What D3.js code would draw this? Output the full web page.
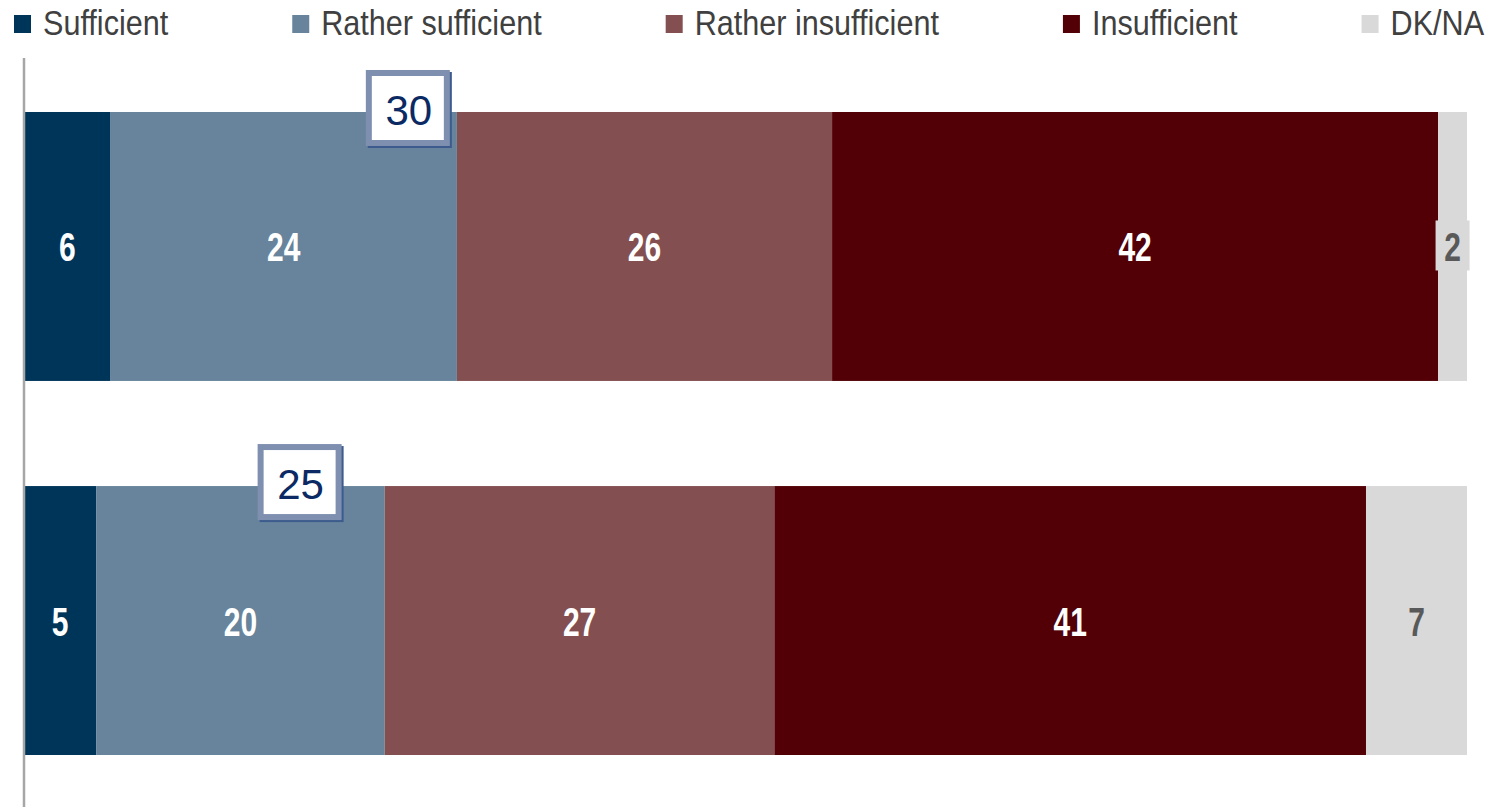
<!doctype html>
<html lang="en">
<head>
<meta charset="utf-8">
<title>Sufficiency</title>
<script src="https://cdn.jsdelivr.net/npm/d3@7"></script>
<style>
  body { margin: 0; background: #fff; }
  svg { display: block; }
  .lbl { font-family: "Liberation Sans", Arial, sans-serif; font-weight: bold; font-size: 40px; }
  .leg { font-family: "Liberation Sans", Arial, sans-serif; font-size: 36px; fill: #404040; }
  .call { font-family: "Liberation Sans", Arial, sans-serif; font-size: 42px; fill: #0b2a63; }
</style>
</head>
<body>
<svg id="chart" width="1511" height="807"></svg>
<script>
// data
var rows = ["Row 1", "Row 2"];
var series = ["Sufficient", "Rather sufficient", "Rather insufficient", "Insufficient", "DK/NA"];
var colors = ["#00355a", "#67849c", "#844f50", "#520005", "#d9d9d9"];
var values = [
  [6, 24, 26, 42, 2],
  [5, 20, 27, 41, 7]
];
var callouts = [30, 25];          // sum of the two "sufficient" answers
var calloutAt = [26.6, 19.1];     // where the box sits, in % units

var svg = d3.select("#chart");
var width = 1511, height = 807;
var narrow = 0.75;    // fake a condensed face, no narrow font here

var x = d3.scaleLinear().domain([0, 100]).range([24, 1467]);
var y = d3.scaleBand().domain(rows).range([60, 807]).paddingInner(0.281).paddingOuter(0.139);

// stacked segments
rows.forEach(function(r, i) {
  var acc = 0;
  var segs = values[i].map(function(v, j) {
    var s = { row: r, key: series[j], v: v, x0: acc, x1: acc + v, j: j };
    acc += v;
    return s;
  });

  var g = svg.append("g");
  g.selectAll("rect").data(segs).enter().append("rect")
    .attr("x", function(d) { return x(d.x0); })
    .attr("width", function(d) { return x(d.x1) - x(d.x0); })
    .attr("y", y(r))
    .attr("height", y.bandwidth())
    .attr("fill", function(d) { return colors[d.j]; });

  // small values get a grey tag so the number stays readable
  g.selectAll("rect.tag").data(segs.filter(function(d) { return d.j == 4 && d.v < 4; }))
    .enter().append("rect").attr("class", "tag")
    .attr("x", function(d) { return x((d.x0 + d.x1) / 2) - 17; })
    .attr("y", y(r) + y.bandwidth() / 2 - 26)
    .attr("width", 34).attr("height", 50)
    .attr("fill", "#d9d9d9");

  g.selectAll("text").data(segs).enter().append("text")
    .attr("class", "lbl")
    .attr("transform", function(d) {
      return "translate(" + x((d.x0 + d.x1) / 2) + "," + (y(r) + y.bandwidth() / 2 + 15) + ") scale(" + narrow + ",1)";
    })
    .attr("text-anchor", "middle")
    .attr("fill", function(d) { return d.j == 4 ? "#595959" : "#fff"; })
    .text(function(d) { return d.v; });

  // callout box
  var cx = x(calloutAt[i]), cy = y(r) - 4;
  var bw = 84, bh = 76;
  g.append("rect").attr("x", cx - bw / 2 + 2).attr("y", cy - bh / 2 + 2)
    .attr("width", bw).attr("height", bh).attr("fill", "#3d5b8c");
  g.append("rect").attr("x", cx - bw / 2 + 3).attr("y", cy - bh / 2 + 3)
    .attr("width", bw - 6).attr("height", bh - 6)
    .attr("fill", "#fff").attr("stroke", "#7f8fb0").attr("stroke-width", 6);
  g.append("text").attr("class", "call")
    .attr("x", cx + 1).attr("y", cy + 2).attr("dy", "0.35em")
    .attr("text-anchor", "middle")
    .text(callouts[i]);
});

// vertical axis line
svg.append("line").attr("x1", 24).attr("x2", 24).attr("y1", 58).attr("y2", height)
  .attr("stroke", "#a6a6a6").attr("stroke-width", 2.5);

// legend
var lx = 14, legScale = 0.85;
series.forEach(function(s, j) {
  var g = svg.append("g").attr("transform", "translate(" + lx + ",0)");
  g.append("rect").attr("x", 0).attr("y", 15).attr("width", 17).attr("height", 18).attr("fill", colors[j]);
  var t = g.append("text").attr("class", "leg")
    .attr("transform", "translate(29,35) scale(" + legScale + ",1)")
    .text(s);
  var w = t.node().getComputedTextLength() * legScale;
  lx += 29 + w + 124;
});
</script>
</body>
</html>
